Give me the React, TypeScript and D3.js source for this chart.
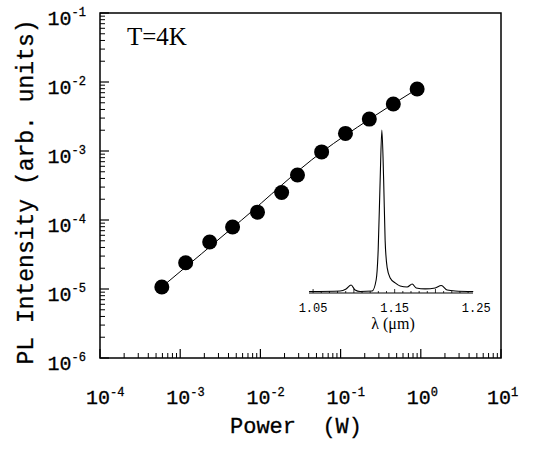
import React from "react";
import * as d3 from "d3";

// Main data: PL intensity vs excitation power at T=4K
const power = [5.9e-4, 1.17e-3, 2.33e-3, 4.5e-3, 9.2e-3, 1.84e-2, 2.9e-2, 5.8e-2, 0.115, 0.228, 0.454, 0.9];
const intensity = [1.07e-5, 2.4e-5, 4.8e-5, 7.9e-5, 1.3e-4, 2.5e-4, 4.5e-4, 9.7e-4, 1.8e-3, 2.9e-3, 4.8e-3, 7.9e-3];

// Fit curve
const fitPower = [5.9e-4, 5.83e-3, 5.77e-2, 0.228, 0.9];
const fitIntensity = [1.07e-5, 9.97e-5, 9.57e-4, 2.88e-3, 7.93e-3];

// Axis ticks
const xDecades = [-4, -3, -2, -1, 0, 1];
const yDecades = [-6, -5, -4, -3, -2, -1];

// Inset spectrum
const lambda = [1.0451, 1.0831, 1.0905, 1.0966, 1.1015, 1.1077, 1.1224, 1.1273, 1.1298, 1.1322, 1.1343, 1.1365, 1.1383, 1.1408, 1.1445, 1.1506, 1.1567, 1.1653, 1.1715, 1.1764, 1.1874, 1.1997, 1.2071, 1.2144, 1.2242, 1.2463];
const specI = [0.003, 0.006, 0.019, 0.043, 0.012, 0.003, 0.006, 0.074, 0.26, 0.69, 1.0, 0.69, 0.32, 0.15, 0.086, 0.056, 0.037, 0.031, 0.049, 0.025, 0.019, 0.025, 0.04, 0.012, 0.006, 0.003];
const insetTicks = [1.05, 1.15, 1.25];

export default function App() {
  const W = 533, H = 450;
  const L = 100, R = 501, T = 13, B = 358;
  const x = d3.scaleLog().domain([1e-4, 10]).range([L, R]);
  const y = d3.scaleLog().domain([1e-6, 1e-1]).range([B, T]);

  const ix = d3.scaleLinear().domain([1.045, 1.246]).range([309, 473]);
  const iy = d3.scaleLinear().domain([0, 1]).range([292, 130]);
  const iBase = 293;

  const mono = "'Liberation Mono', 'DejaVu Sans Mono', monospace";
  const serif = "'Liberation Serif', 'DejaVu Serif', serif";

  const xMinor: number[] = [];
  for (let d = -4; d < 1; d++) for (let k = 2; k <= 9; k++) xMinor.push(k * Math.pow(10, d));
  const yMinor: number[] = [];
  for (let d = -6; d < -1; d++) for (let k = 2; k <= 9; k++) yMinor.push(k * Math.pow(10, d));

  const fitLine = d3.line<number>()
    .x((_, i) => x(fitPower[i]))
    .y((_, i) => y(fitIntensity[i]))
    .curve(d3.curveMonotoneX)(fitPower);

  const spec = d3.line<number>()
    .x((_, i) => ix(lambda[i]))
    .y((_, i) => iy(specI[i]))
    .curve(d3.curveMonotoneX)(lambda);

  const insetMinor = d3.range(1.05, 1.2451, 0.01);

  return (
    <svg width={W} height={H} style={{ display: "block", position: "absolute", left: 0, top: 0 }}>
      <rect x={0} y={0} width={W} height={H} fill="#fff" />
      {/* frame */}
      <rect x={L} y={T} width={R - L} height={B - T} fill="none" stroke="#000" strokeWidth={1.5} />
      {/* x ticks */}
      {xDecades.map((d) => (
        <line key={"xM" + d} x1={x(Math.pow(10, d))} x2={x(Math.pow(10, d))} y1={B} y2={B - 9} stroke="#000" strokeWidth={1.2} />
      ))}
      {xMinor.map((v, i) => (
        <line key={"xm" + i} x1={x(v)} x2={x(v)} y1={B} y2={B - 5} stroke="#000" strokeWidth={1} />
      ))}
      {/* y ticks */}
      {yDecades.map((d) => (
        <line key={"yM" + d} x1={L} x2={L + 9} y1={y(Math.pow(10, d))} y2={y(Math.pow(10, d))} stroke="#000" strokeWidth={1.2} />
      ))}
      {yMinor.map((v, i) => (
        <line key={"ym" + i} x1={L} x2={L + 5} y1={y(v)} y2={y(v)} stroke="#000" strokeWidth={1} />
      ))}
      {/* x tick labels */}
      {xDecades.map((d) => (
        <text key={"xl" + d} x={x(Math.pow(10, d)) - 14} y={404} fontFamily={mono} fontSize={20} fill="#000" stroke="#000" strokeWidth={0.3}>
          10<tspan fontSize={12} dy={-8}>{d < 0 ? "-" + Math.abs(d) : String(d)}</tspan>
        </text>
      ))}
      {/* y tick labels */}
      {yDecades.map((d) => (
        <text key={"yl" + d} x={86} y={y(Math.pow(10, d)) + 12} textAnchor="end" fontFamily={mono} fontSize={20} fill="#000" stroke="#000" strokeWidth={0.3}>
          10<tspan fontSize={12} dy={-9}>{"-" + Math.abs(d)}</tspan>
        </text>
      ))}
      {/* axis titles */}
      <text x={296} y={433} textAnchor="middle" fontFamily={mono} fontSize={22} fill="#000" stroke="#000" strokeWidth={0.3} style={{ whiteSpace: "pre" }}>
        {"Power  (W)"}
      </text>
      <text transform={`translate(33,192) rotate(-90)`} textAnchor="middle" fontFamily={mono} fontSize={23} fill="#000" stroke="#000" strokeWidth={0.3}>
        PL Intensity (arb. units)
      </text>
      <text x={127} y={45} fontFamily={serif} fontSize={25} fill="#000">T=4K</text>
      {/* fit line */}
      <path d={fitLine || ""} fill="none" stroke="#000" strokeWidth={1} />
      {/* points */}
      {power.map((p, i) => (
        <circle key={"p" + i} cx={x(p)} cy={y(intensity[i])} r={7.5} fill="#000" />
      ))}
      {/* inset */}
      <line x1={ix(1.045)} x2={ix(1.246)} y1={iBase} y2={iBase} stroke="#000" strokeWidth={1.2} />
      {insetMinor.map((v, i) => (
        <line key={"im" + i} x1={ix(v)} x2={ix(v)} y1={iBase} y2={iBase - (i % 5 === 0 ? 4 : 2)} stroke="#000" strokeWidth={0.8} />
      ))}
      <path d={spec || ""} fill="none" stroke="#000" strokeWidth={1.1} />
      {insetTicks.map((t) => (
        <text key={"it" + t} x={ix(t)} y={312} textAnchor="middle" fontFamily={mono} fontSize={12} fill="#000">
          {t.toFixed(2)}
        </text>
      ))}
      <text x={393} y={329} textAnchor="middle" fontFamily={serif} fontSize={16} fill="#000">λ (μm)</text>
    </svg>
  );
}
